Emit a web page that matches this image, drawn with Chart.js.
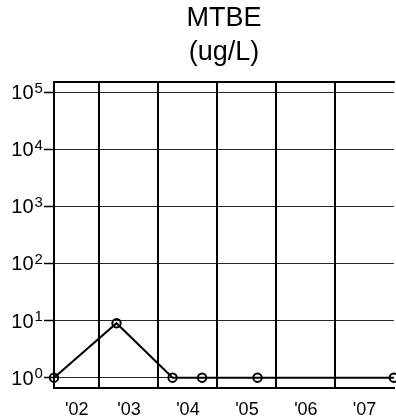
<!DOCTYPE html>
<html>
<head>
<meta charset="utf-8">
<script src="https://cdn.jsdelivr.net/npm/chart.js@4"></script>
<style>
  html, body { margin: 0; padding: 0; background: #fff; overflow: hidden; }
  #wrap { width: 396px; height: 420px; overflow: hidden; }
</style>
</head>
<body>
<div id="wrap"><canvas id="c" width="400" height="420"></canvas></div>
<script>
// sample dates (decimal years) and MTBE results
const sampleYears = [2002.23, 2003.29, 2004.24, 2004.74, 2005.68, 2007.99];
const mtbeValues = [1, 9, 1, 1, 1, 1];
const yearLabels = ["'02", "'03", "'04", "'05", "'06", "'07"];
const firstYear = 2002;
const yExponents = [0, 1, 2, 3, 4, 5];

const X_MIN = 2002.23, X_MAX = 2007.99;
const FONT = '"Liberation Sans", Arial, Helvetica, sans-serif';

// year boundaries get grid lines, label ticks sit in the middle of each visible year
const boundaryTicks = yearLabels.slice(1).map((_, i) => firstYear + i + 1);
const labelTicks = yearLabels.map((_, i) => {
  const lo = Math.max(firstYear + i, X_MIN);
  const hi = Math.min(firstYear + i + 1, X_MAX);
  return (lo + hi) / 2;
});

const frame = {
  id: "frame",
  afterDraw(chart) {
    const { ctx, chartArea } = chart;
    ctx.save();
    ctx.strokeStyle = "#000";
    ctx.lineWidth = 2;
    ctx.beginPath();
    ctx.moveTo(chartArea.left - 1, chartArea.top);
    ctx.lineTo(chartArea.right + 1, chartArea.top);
    ctx.stroke();

    // y tick labels: 10 with superscript exponent
    const y = chart.scales.y;
    ctx.fillStyle = "#000";
    yExponents.forEach((e) => {
      const py = y.getPixelForValue(Math.pow(10, e));
      ctx.font = "20px " + FONT;
      ctx.textAlign = "right";
      ctx.textBaseline = "alphabetic";
      ctx.fillText("10", 33.5, py + 7);
      ctx.font = "15px " + FONT;
      ctx.textAlign = "left";
      ctx.fillText(String(e), 34.5, py + 0.5);
    });
    ctx.restore();
  },
};

new Chart(document.getElementById("c"), {
  type: "line",
  data: {
    datasets: [
      {
        data: sampleYears.map((x, i) => ({ x: x, y: mtbeValues[i] })),
        borderColor: "#000",
        borderWidth: 2,
        pointRadius: 4.2,
        pointBorderWidth: 2,
        pointBorderColor: "#000",
        pointBackgroundColor: "rgba(0,0,0,0)",
        tension: 0,
        clip: false,
      },
    ],
  },
  options: {
    responsive: false,
    animation: false,
    devicePixelRatio: 1,
    layout: { padding: { left: 0, right: 3, top: 0, bottom: 0 } },
    plugins: {
      legend: { display: false },
      tooltip: { enabled: false },
      title: {
        display: true,
        fullSize: false,
        text: ["MTBE", "(ug/L)"],
        color: "#000",
        font: { family: FONT, size: 27, weight: "normal", lineHeight: 1.25 },
        padding: { top: 2, bottom: 12.5 },
      },
    },
    scales: {
      x: {
        type: "linear",
        min: X_MIN,
        max: X_MAX,
        afterBuildTicks: (scale) => {
          scale.ticks = boundaryTicks
            .concat(labelTicks)
            .sort((a, b) => a - b)
            .map((v) => ({ value: v }));
        },
        afterFit: (scale) => { scale.height = 32; },
        grid: {
          drawTicks: false,
          lineWidth: 2,
          color: (ctx) =>
            ctx.tick && boundaryTicks.includes(ctx.tick.value) ? "#000" : "rgba(0,0,0,0)",
        },
        border: { display: true, color: "#000", width: 2 },
        ticks: {
          autoSkip: false,
          maxRotation: 0,
          padding: 11,
          color: "#000",
          font: { family: FONT, size: 18 },
          callback: (v) => {
            const i = labelTicks.indexOf(v);
            return i >= 0 ? yearLabels[i] : "";
          },
        },
      },
      y: {
        type: "logarithmic",
        min: 0.66,
        max: 150000,
        afterBuildTicks: (scale) => {
          scale.ticks = yExponents.map((e) => ({ value: Math.pow(10, e) }));
        },
        afterFit: (scale) => { scale.width = 54; },
        grid: {
          drawTicks: true,
          tickLength: 10,
          tickColor: "#000",
          tickWidth: 1.5,
          color: "rgba(0,0,0,0.85)",
          lineWidth: 1,
        },
        border: { display: true, color: "#000", width: 2 },
        ticks: { display: false },
      },
    },
  },
  plugins: [frame],
});
</script>
</body>
</html>
